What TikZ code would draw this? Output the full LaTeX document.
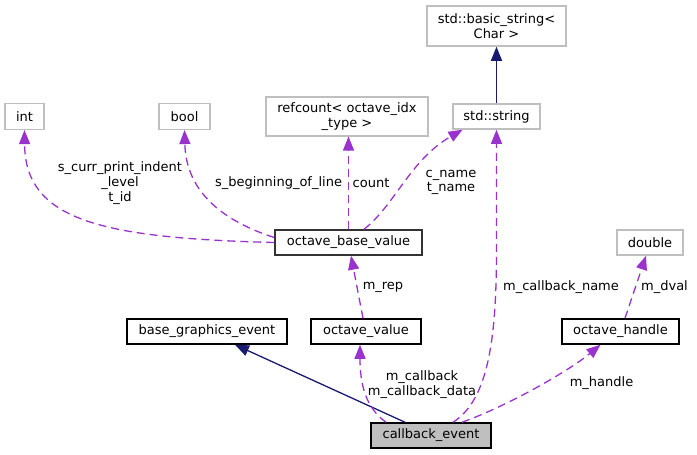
\documentclass[tikz,border=0pt]{standalone}
\usepackage{fontspec}
\setmainfont{DejaVu Sans}
\usetikzlibrary{arrows.meta,calc}
\definecolor{dxpurple}{HTML}{9A32CD}
\definecolor{dxnavy}{HTML}{191970}
\definecolor{dxgray}{HTML}{BFBFBF}
\begin{document}
\begin{tikzpicture}[x=1pt,y=-1pt,
  txt/.style={font=\fontsize{13}{14.7}\selectfont,align=center,inner sep=0pt,text=black},
  box/.style={txt,draw=black,line width=1.5pt,fill=white},
  ext/.style={box,draw=dxgray},
  dep/.style={draw=dxpurple,line width=1.3pt,dash pattern=on 8pt off 5pt,
    -{Triangle[length=14pt,width=11pt,fill=dxpurple]}},
  inh/.style={draw=dxnavy,line width=1.3pt,
    -{Triangle[length=14pt,width=11pt,fill=dxnavy]}},
  lbl/.style={txt}
]
\useasboundingbox (0,0) rectangle (697,455);

% nodes
\node[ext,minimum width=39pt,minimum height=26pt] (int) at (24.5,116.3) {int};
\node[ext,minimum width=51pt,minimum height=26pt] (bool) at (184.5,116.3) {bool};
\node[ext,minimum width=162pt,minimum height=39pt] (refc) at (347,116.3) {refcount< octave\_idx\\\_type >};
\node[ext,minimum width=87pt,minimum height=25pt] (str) at (496.5,116.5) {std::string};
\node[ext,minimum width=139pt,minimum height=40pt] (bstr) at (496.5,26) {std::basic\_string<\\Char >};
\node[box,draw=black!80,minimum width=147pt,minimum height=25pt] (obv) at (348.5,242.5) {octave\_base\_value};
\node[ext,minimum width=66pt,minimum height=25pt] (dbl) at (650,242.5) {double};
\node[box,minimum width=160pt,minimum height=25pt] (bge) at (207,331.5) {base\_graphics\_event};
\node[box,minimum width=110pt,minimum height=25pt] (ov) at (366,331.5) {octave\_value};
\node[box,minimum width=117pt,minimum height=25pt] (oh) at (620.5,331.5) {octave\_handle};
\node[box,fill=dxgray,minimum width=120pt,minimum height=25pt] (cb) at (431,435.5) {callback\_event};

% edges
\draw[inh] (str.north) -- (bstr.south);
\draw[dep] (obv.west) .. controls (100,238) and (25,220) .. (int.south);
\draw[dep] ($(obv.west)+(0,-5)$) .. controls (220,220) and (186,190) .. (bool.south);
\draw[dep] (obv.north) -- (obv.north |- refc.south);
\draw[dep] ($(obv.north)+(15.5,0)$) .. controls (395,205) and (410,160) .. ($(str.south)+(-34,0)$);
\draw[dep] ($(ov.north)+(-3,0)$) -- ($(obv.south)+(2.5,0)$);
\draw[dep] ($(oh.north)+(4.5,0)$) -- ($(dbl.south)+(-4,0)$);
\draw[inh] ($(cb.north)+(-26,0)$) -- ($(bge.south)+(28,0)$);
\draw[dep] ($(cb.north)+(-45,0)$) .. controls (366,408) and (360,385) .. ($(ov.south)+(-6,0)$);
\draw[dep] ($(cb.north)+(22,0)$) .. controls (488,400) and (496.5,340) .. ($(str.south)+(0,120)$) -- (str.south);
\draw[dep] ($(cb.north)+(31,0)$) .. controls (510,405) and (570,370) .. ($(oh.south)+(-20,0)$);

% labels
\node[lbl] (lint) at (120,183) {s\_curr\_print\_indent\\\_level\\t\_id};
\node[lbl] (lbool) at (278.5,183) {s\_beginning\_of\_line};
\node[lbl] (lcount) at (371,183) {count};
\node[lbl] (lcname) at (451,182.5) {c\_name\\t\_name};
\node[lbl] (lrep) at (383,287) {m\_rep};
\node[lbl] (lcbn) at (561,287) {m\_callback\_name};
\node[lbl] (ldval) at (664.5,287) {m\_dval};
\node[lbl] (lcb) at (422,384.5) {m\_callback\\m\_callback\_data};
\node[lbl] (lhandle) at (601.5,383) {m\_handle};
\end{tikzpicture}
\end{document}
